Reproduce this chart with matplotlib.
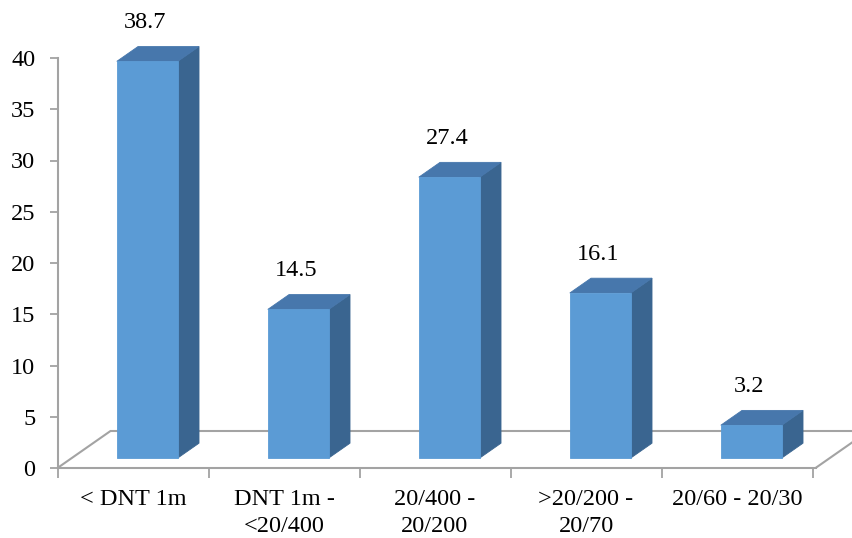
import matplotlib
matplotlib.use("Agg")
import matplotlib.pyplot as plt
from matplotlib.patches import Polygon

categories = ["< DNT 1m", "DNT 1m -\n<20/400", "20/400 -\n20/200", ">20/200 -\n20/70", "20/60 - 20/30"]
values = [38.7, 14.5, 27.4, 16.1, 3.2]
y_ticks = [0, 5, 10, 15, 20, 25, 30, 35, 40]

FRONT = "#5b9bd5"
TOP = "#4777ac"
SIDE = "#3a6590"
GRID = "#a3a3a3"
FS = 17.5

plt.rcParams["font.family"] = ["Liberation Serif", "DejaVu Serif"]

fig = plt.figure(figsize=(8.52, 5.38), dpi=100)
ax = fig.add_axes([57.5 / 852, 70 / 538, 755 / 852, 410 / 538])
ax.set_xlim(-0.5, len(categories) - 0.5)
ax.set_ylim(0, 40)

# oblique projection of the depth axis, in data units
DX, DY = 0.351, 3.61
BAR_FRONT, BAR_BACK = 0.27, 0.67
HALF_W = 0.202

# floor outline
x0, x1 = -0.5, len(categories) - 0.5 + 0.02
floor = [(x0, 0), (x0 + DX, DY), (x1 + DX, DY), (x1, 0)]
ax.add_patch(Polygon(floor, closed=False, fill=False, edgecolor=GRID,
                     linewidth=1.5, clip_on=False, zorder=1))

for i, v in enumerate(values):
    fx, fy = BAR_FRONT * DX, BAR_FRONT * DY
    bx, by = BAR_BACK * DX, BAR_BACK * DY
    l, r = i - HALF_W, i + HALF_W
    front = [(l + fx, fy), (r + fx, fy), (r + fx, v + fy), (l + fx, v + fy)]
    top = [(l + fx, v + fy), (r + fx, v + fy), (r + bx, v + by), (l + bx, v + by)]
    side = [(r + fx, fy), (r + bx, by), (r + bx, v + by), (r + fx, v + fy)]
    for pts, col in ((side, SIDE), (top, TOP), (front, FRONT)):
        ax.add_patch(Polygon(pts, closed=True, facecolor=col, edgecolor=col,
                             linewidth=0.6, clip_on=False, zorder=3))
    ax.text(i + 0.083, v + by + 2.34, f"{v}", ha="center", va="center",
            fontsize=FS, color="black", clip_on=False, zorder=4)

# axes styling
for s in ("top", "right"):
    ax.spines[s].set_visible(False)
ax.spines["left"].set_color(GRID)
ax.spines["left"].set_linewidth(1.5)
ax.spines["bottom"].set_color(GRID)
ax.spines["bottom"].set_linewidth(1.5)
ax.spines["bottom"].set_bounds(x0, x1)

ax.set_yticks(y_ticks)
ax.set_yticklabels([str(t) for t in y_ticks])
ax.tick_params(axis="y", length=6, width=1.3, color=GRID, pad=10,
               labelsize=FS, labelcolor="black")

ax.set_xticks([i - 0.5 for i in range(len(categories) + 1)])
ax.set_xticklabels([])
ax.set_xticks(range(len(categories)), minor=True)
ax.set_xticklabels(categories, minor=True, linespacing=1.4)
ax.tick_params(axis="x", which="major", length=7, width=1.3, color=GRID, direction="out")
ax.tick_params(axis="x", which="minor", length=0, pad=15, labelsize=FS,
               labelcolor="black")

fig.savefig("out.png", dpi=100)
